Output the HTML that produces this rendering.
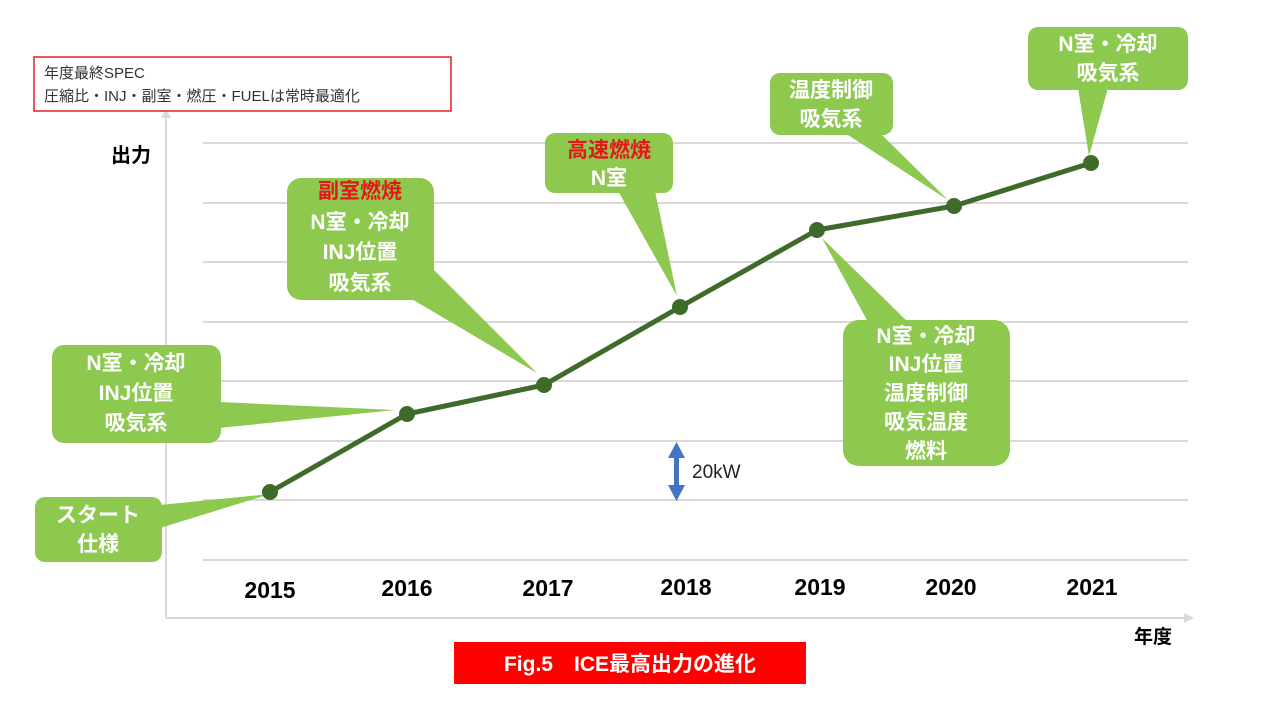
<!DOCTYPE html>
<html><head><meta charset="utf-8"><style>
html,body{margin:0;padding:0;background:#fff;}
svg{display:block;}
text{font-family:"Liberation Sans","Noto Sans CJK JP",sans-serif;}
.w{fill:#fff;font-weight:bold;font-size:21px;text-anchor:middle;}
.y{fill:#000;font-weight:bold;font-size:23px;text-anchor:middle;}
</style></head><body>
<svg width="1280" height="720" viewBox="0 0 1280 720">
<g stroke="#d9d9d9" stroke-width="2">
<line x1="203" y1="143" x2="1188" y2="143"/><line x1="203" y1="203" x2="1188" y2="203"/>
<line x1="203" y1="262" x2="1188" y2="262"/><line x1="203" y1="322" x2="1188" y2="322"/>
<line x1="203" y1="381" x2="1188" y2="381"/><line x1="203" y1="441" x2="1188" y2="441"/>
<line x1="203" y1="500" x2="1188" y2="500"/><line x1="203" y1="560" x2="1188" y2="560"/>
</g>
<g stroke="#d9d9d9" stroke-width="2" fill="none">
<line x1="166" y1="116" x2="166" y2="618"/><line x1="166" y1="618" x2="1186" y2="618"/>
</g>
<polygon points="166,108 161,118 171,118" fill="#d9d9d9"/>
<polygon points="1194,618 1184,613 1184,623" fill="#d9d9d9"/>
<rect x="34" y="57" width="417" height="54" fill="#fff" stroke="#e02020" stroke-width="1.5"/>
<text x="44" y="78" font-size="15" fill="#333">年度最終SPEC</text>
<text x="44" y="101" font-size="15" fill="#333">圧縮比・INJ・副室・燃圧・FUELは常時最適化</text>
<text x="131" y="162" font-size="20" font-weight="bold" fill="#000" text-anchor="middle">出力</text>
<text x="1153" y="643" font-size="19" font-weight="bold" fill="#000" text-anchor="middle">年度</text>
<g fill="#8dc94f">
<rect x="35" y="497" width="127" height="65" rx="10"/><polygon points="160,505 160,528 270,494"/>
<rect x="52" y="345" width="169" height="98" rx="12"/><polygon points="219,402 219,428 395,410"/>
<rect x="287" y="178" width="147" height="122" rx="14"/><polygon points="410,298 434,270 537,373"/>
<rect x="545" y="133" width="128" height="60" rx="10"/><polygon points="618,191 655,191 677,296"/>
<rect x="770" y="73" width="123" height="62" rx="10"/><polygon points="845,133 880,133 948,200"/>
<rect x="1028" y="27" width="160" height="63" rx="10"/><polygon points="1078,88 1108,88 1089,156"/>
<rect x="843" y="320" width="167" height="146" rx="16"/><polygon points="868,322 908,322 822,238"/>
</g>
<polyline points="270,492 407,414 544,385 680,307 817,230 954,206 1091,163" fill="none" stroke="#3f6b2a" stroke-width="5" stroke-linejoin="round"/>
<g fill="#3f6b2a">
<circle cx="270" cy="492" r="8"/><circle cx="407" cy="414" r="8"/><circle cx="544" cy="385" r="8"/><circle cx="680" cy="307" r="8"/><circle cx="817" cy="230" r="8"/><circle cx="954" cy="206" r="8"/><circle cx="1091" cy="163" r="8"/>
</g>
<text class="w" x="98" y="522">スタート</text><text class="w" x="98" y="551">仕様</text>
<text class="w" x="136" y="370">N室・冷却</text><text class="w" x="136" y="400">INJ位置</text><text class="w" x="136" y="430">吸気系</text>
<text class="w" x="360" y="198" fill="#e8151b" style="fill:#e8151b">副室燃焼</text><text class="w" x="360" y="229">N室・冷却</text><text class="w" x="360" y="259">INJ位置</text><text class="w" x="360" y="290">吸気系</text>
<text class="w" x="609" y="157" style="fill:#e8151b">高速燃焼</text><text class="w" x="609" y="185">N室</text>
<text class="w" x="831" y="97">温度制御</text><text class="w" x="831" y="126">吸気系</text>
<text class="w" x="1108" y="51">N室・冷却</text><text class="w" x="1108" y="80">吸気系</text>
<text class="w" x="926" y="343">N室・冷却</text><text class="w" x="926" y="371">INJ位置</text><text class="w" x="926" y="400">温度制御</text><text class="w" x="926" y="429">吸気温度</text><text class="w" x="926" y="458">燃料</text>
<g fill="#4472c4">
<rect x="674" y="455" width="5" height="34"/><polygon points="676.5,442 668,458 685,458"/><polygon points="676.5,501 668,485 685,485"/>
</g>
<text x="692" y="478" font-size="19" fill="#222">20kW</text>
<text class="y" x="270" y="598">2015</text><text class="y" x="407" y="596">2016</text><text class="y" x="548" y="596">2017</text><text class="y" x="686" y="595">2018</text><text class="y" x="820" y="595">2019</text><text class="y" x="951" y="595">2020</text><text class="y" x="1092" y="595">2021</text>
<rect x="454" y="642" width="352" height="42" fill="#ff0000"/>
<text x="630" y="671" font-size="21" font-weight="bold" fill="#fff" text-anchor="middle" xml:space="preserve">Fig.5　ICE最高出力の進化</text>
</svg>
</body></html>
